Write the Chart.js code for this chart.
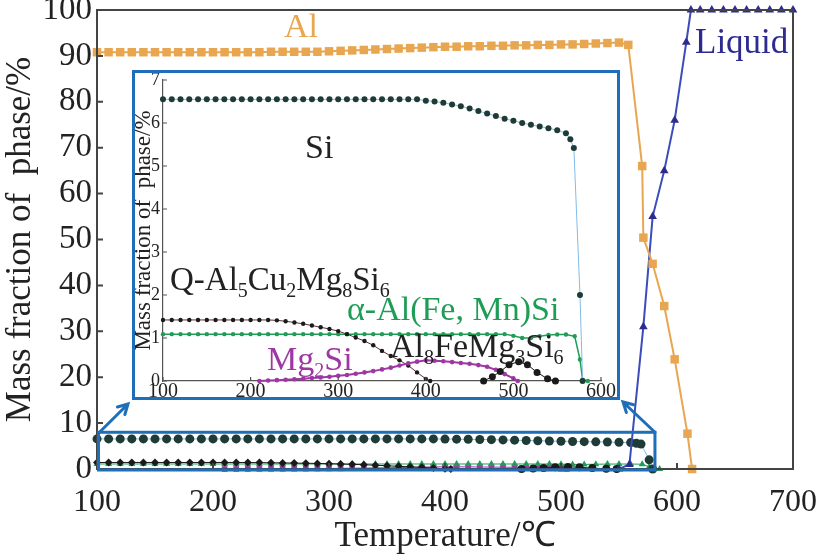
<!DOCTYPE html>
<html>
<head>
<meta charset="utf-8">
<title>Mass fraction of phase vs temperature</title>
<script src="https://cdn.jsdelivr.net/npm/chart.js@4.4.1/dist/chart.umd.min.js"></script>
<style>
  html, body { margin: 0; padding: 0; background: #fff; }
  #wrap { position: relative; width: 820px; height: 558px; }
  #mainChart { position: absolute; left: 0; top: 0; }
  #insetChart { position: absolute; left: 132px; top: 70px; }
</style>
</head>
<body>
<div id="wrap">
  <canvas id="mainChart" width="820" height="558"></canvas>
  <canvas id="insetChart" width="488" height="330"></canvas>
</div>
<script>
// ==================== DATA (temperature in °C, mass fraction in %) ====================

const alTemp = [100,110,120,130,140,150,160,170,180,190,
                200,210,220,230,240,250,260,270,280,290,
                300,310,320,330,340,350,360,370,380,390,
                400,410,420,430,440,450,460,470,480,490,
                500,510,520,530,540,550,558,570,571,579,589,598,609,613];
const alFrac = [90.8,90.8,90.8,90.8,90.8,90.8,90.8,90.8,90.8,90.8,
                90.8,90.8,90.8,90.8,90.8,90.9,90.9,90.9,90.9,90.9,
                91.0,91.1,91.2,91.3,91.4,91.5,91.6,91.7,91.8,91.9,
                92.0,92.0,92.1,92.1,92.2,92.2,92.3,92.3,92.4,92.4,
                92.5,92.5,92.6,92.7,92.8,92.9,92.4,66.0,50.4,44.7,35.5,23.9,7.7,0];

const liqTemp = [550,559,571,579,589,598,608,612,620,630,640,650,660,670,680,690,700];
const liqFrac = [0,1,31,55,65,76,93,100,100,100,100,100,100,100,100,100,100];

const siTemp = [100,110,120,130,140,150,160,170,180,190,
                200,210,220,230,240,250,260,270,280,290,
                300,310,320,330,340,350,360,370,380,390,
                400,410,420,430,440,450,460,470,480,490,
                500,510,520,530,540,550,560,565,569,576,579];
const siFrac = [6.55,6.55,6.55,6.55,6.55,6.55,6.55,6.55,6.55,6.55,
                6.55,6.55,6.55,6.55,6.55,6.55,6.55,6.55,6.55,6.55,
                6.55,6.55,6.55,6.55,6.55,6.55,6.55,6.55,6.55,6.55,
                6.52,6.50,6.47,6.43,6.39,6.34,6.28,6.22,6.16,6.10,
                6.05,6.00,5.96,5.92,5.88,5.83,5.76,5.62,5.42,2.0,0];

// Q-Al5Cu2Mg8Si6
const qTemp = [100,110,120,130,140,150,160,170,180,190,
               200,210,220,230,240,250,260,270,280,290,
               300,310,320,330,340,350,360,370,380,390,400,405];
const qFrac = [1.42,1.42,1.42,1.42,1.42,1.42,1.42,1.42,1.42,1.42,
               1.42,1.42,1.42,1.41,1.39,1.36,1.33,1.29,1.25,1.21,
               1.16,1.09,1.01,0.93,0.83,0.70,0.58,0.48,0.36,0.20,0.05,0];

// alpha-Al(Fe, Mn)Si
const aTemp = [100,110,120,130,140,150,160,170,180,190,
               200,210,220,230,240,250,260,270,280,290,
               300,310,320,330,340,350,360,370,380,390,
               400,410,420,430,440,450,460,470,480,490,
               500,510,520,530,540,550,560,570,576,579,585];
const aFrac = [1.09,1.09,1.09,1.09,1.09,1.09,1.09,1.09,1.09,1.09,
               1.09,1.09,1.09,1.09,1.09,1.09,1.09,1.09,1.09,1.09,
               1.09,1.09,1.09,1.09,1.09,1.09,1.09,1.09,1.09,1.09,
               1.09,1.09,1.09,1.09,1.09,1.09,1.09,1.09,1.09,1.09,
               1.05,1.00,1.00,1.04,1.07,1.08,1.08,1.04,0.5,0.03,0];

// Mg2Si
const mgTemp = [210,220,230,240,250,260,270,280,290,300,
                310,320,330,340,350,360,370,380,390,400,
                410,420,430,440,450,460,470,480,490,500,505];
const mgFrac = [0,0.01,0.02,0.03,0.04,0.05,0.07,0.08,0.10,0.12,
                0.14,0.17,0.20,0.23,0.27,0.31,0.36,0.41,0.45,0.48,
                0.47,0.46,0.44,0.42,0.40,0.37,0.33,0.26,0.16,0.06,0];

// Al8FeMg3Si6
const al8Temp = [466,476,485,495,506,516,527,539,548];
const al8Frac = [0,0.10,0.22,0.38,0.45,0.38,0.20,0.05,0];

// region of the main plot that the inset enlarges
const zoomBox = { tMin: 100, tMax: 581, fMax: 8 };

// ==================== STYLE ====================
const SERIF = '"Liberation Serif", "Times New Roman", serif';
const INK = '#222';
const AL_ORANGE = '#E9A650';
const LIQ_MARK = '#2D2B8F';
const LIQ_LINE = '#3B4CBB';
const SI_DARK = '#1F3B36';
const SI_LINE = '#84BCE6';
const Q_BLACK = '#1a1a1a';
const ALPHA_GREEN = '#1F9D57';
const MG_PURPLE = '#9E36A3';
const FRAME_BLUE = '#1E6FB8';

const pts = (xs, ys) => xs.map((x, i) => ({ x: x, y: ys[i] }));

function series(xs, ys, style) {
  return Object.assign({
    data: pts(xs, ys),
    showLine: true,
    clip: false,
    borderWidth: 1,
    pointBorderWidth: 0
  }, style);
}

// draw text where "_x" makes x a subscript
function drawRich(ctx, text, x, y, size, color) {
  ctx.save();
  ctx.fillStyle = color;
  ctx.textAlign = 'left';
  ctx.textBaseline = 'alphabetic';
  let cx = x;
  for (let i = 0; i < text.length; i++) {
    let ch = text[i];
    let sub = false;
    if (ch === '_') { ch = text[++i]; sub = true; }
    ctx.font = (sub ? Math.round(size * 0.6) : size) + 'px ' + SERIF;
    ctx.fillText(ch, cx, sub ? y + size * 0.22 : y);
    cx += ctx.measureText(ch).width;
  }
  ctx.restore();
}

// white background, inward ticks, optional box, text labels, optional blue frame
const frameAndTicks = {
  id: 'frameAndTicks',
  beforeDraw(chart) {
    const ctx = chart.ctx;
    ctx.save();
    ctx.fillStyle = '#fff';
    ctx.fillRect(0, 0, chart.width, chart.height);
    ctx.restore();
  },
  afterDraw(chart, args, o) {
    const { ctx, chartArea: a, scales } = chart;
    ctx.save();
    ctx.strokeStyle = o.axisColor;
    ctx.lineWidth = o.axisWidth;
    if (o.box) ctx.strokeRect(a.left, a.top, a.right - a.left, a.bottom - a.top);
    ctx.beginPath();
    scales.x.ticks.forEach(t => {
      const px = scales.x.getPixelForValue(t.value);
      ctx.moveTo(px, a.bottom);
      ctx.lineTo(px, a.bottom - o.tickLen);
    });
    scales.y.ticks.forEach(t => {
      const py = scales.y.getPixelForValue(t.value);
      ctx.moveTo(a.left, py);
      ctx.lineTo(a.left + o.tickLen, py);
    });
    ctx.stroke();
    (o.labels || []).forEach(l => drawRich(ctx, l.text, l.x, l.y, l.size, l.color));
    if (o.frame) {
      ctx.strokeStyle = FRAME_BLUE;
      ctx.lineWidth = 3;
      ctx.strokeRect(1.5, 1.5, chart.width - 3, chart.height - 3);
    }
    ctx.restore();
  }
};

function arrow(ctx, x0, y0, x1, y1) {
  const ang = Math.atan2(y1 - y0, x1 - x0);
  const head = 11;
  ctx.beginPath();
  ctx.moveTo(x0, y0);
  ctx.lineTo(x1, y1);
  ctx.moveTo(x1 - head * Math.cos(ang - 0.5), y1 - head * Math.sin(ang - 0.5));
  ctx.lineTo(x1, y1);
  ctx.lineTo(x1 - head * Math.cos(ang + 0.5), y1 - head * Math.sin(ang + 0.5));
  ctx.stroke();
}

// blue box round the enlarged region and the two arrows to the inset
const zoomMarker = {
  id: 'zoomMarker',
  afterDraw(chart) {
    const { ctx, scales: { x, y } } = chart;
    const x0 = x.getPixelForValue(zoomBox.tMin) + 1.5;
    const x1 = x.getPixelForValue(zoomBox.tMax);
    const y0 = y.getPixelForValue(0) + 1;
    const y1 = y.getPixelForValue(zoomBox.fMax);
    ctx.save();
    ctx.strokeStyle = FRAME_BLUE;
    ctx.lineWidth = 3;
    ctx.lineCap = 'round';
    ctx.strokeRect(x0, y1, x1 - x0, y0 - y1);
    arrow(ctx, x0 + 1, y1, 128, 404);
    arrow(ctx, x1, y1, 623, 402);
    ctx.restore();
  }
};

function fitX(h) {
  return s => { s.height = h; s.paddingLeft = 0; s.paddingRight = 0; };
}
function fitY(w) {
  return s => { s.width = w; s.paddingTop = 0; s.paddingBottom = 0; };
}

// ==================== MAIN CHART ====================
new Chart(document.getElementById('mainChart'), {
  type: 'scatter',
  data: {
    datasets: [
      series(alTemp, alFrac, { borderColor: AL_ORANGE, borderWidth: 2, pointStyle: 'rect', pointRadius: 6, pointBackgroundColor: AL_ORANGE }),
      series(liqTemp, liqFrac, { borderColor: LIQ_LINE, borderWidth: 2, pointStyle: 'triangle', pointRadius: 5, pointBackgroundColor: LIQ_MARK }),
      series(siTemp, siFrac, { borderColor: SI_LINE, pointStyle: 'circle', pointRadius: 4.5, pointBackgroundColor: SI_DARK }),
      series(qTemp, qFrac, { borderColor: Q_BLACK, pointStyle: 'rectRot', pointRadius: 4, pointBackgroundColor: Q_BLACK }),
      series(al8Temp, al8Frac, { borderColor: Q_BLACK, pointStyle: 'circle', pointRadius: 4, pointBackgroundColor: Q_BLACK }),
      series(aTemp, aFrac, { borderColor: ALPHA_GREEN, pointStyle: 'triangle', pointRadius: 4, pointBackgroundColor: ALPHA_GREEN }),
      series(mgTemp, mgFrac, { borderColor: MG_PURPLE, pointStyle: 'rect', pointRadius: 4, pointBackgroundColor: MG_PURPLE })
    ]
  },
  options: {
    responsive: false,
    animation: false,
    layout: { padding: { left: 0, right: 27, top: 10, bottom: 0 } },
    plugins: {
      legend: { display: false },
      tooltip: { enabled: false },
      frameAndTicks: {
        axisColor: '#444', axisWidth: 2, tickLen: 6, box: true,
        labels: [
          { text: 'Al', x: 284, y: 37, size: 34, color: AL_ORANGE },
          { text: 'Liquid', x: 695, y: 53, size: 35, color: LIQ_MARK }
        ]
      }
    },
    scales: {
      x: {
        type: 'linear', min: 100, max: 700,
        afterFit: fitX(89),
        ticks: { stepSize: 100, autoSkip: false, maxRotation: 0, padding: 14, color: INK, font: { family: SERIF, size: 32 } },
        grid: { display: false, drawTicks: false },
        border: { display: true, color: '#444', width: 2 },
        title: { display: true, text: 'Temperature/℃', color: INK, padding: 0, font: { family: SERIF, size: 35 } }
      },
      y: {
        min: 0, max: 100,
        afterFit: fitY(97),
        ticks: { stepSize: 10, autoSkip: false, padding: 5, color: INK, font: { family: SERIF, size: 33 } },
        grid: { display: false, drawTicks: false },
        border: { display: true, color: '#444', width: 2 },
        title: { display: true, text: 'Mass fraction of  phase/%', color: INK, padding: 0, font: { family: SERIF, size: 35 } }
      }
    }
  },
  plugins: [frameAndTicks, zoomMarker]
});

// ==================== INSET CHART ====================
new Chart(document.getElementById('insetChart'), {
  type: 'scatter',
  data: {
    datasets: [
      series(siTemp, siFrac, { borderColor: SI_LINE, pointStyle: 'circle', pointRadius: 3, pointBackgroundColor: SI_DARK }),
      series(al8Temp, al8Frac, { borderColor: Q_BLACK, pointStyle: 'circle', pointRadius: 3.5, pointBackgroundColor: Q_BLACK }),
      series(mgTemp, mgFrac, { borderColor: MG_PURPLE, borderWidth: 2, pointStyle: 'circle', pointRadius: 2.3, pointBackgroundColor: MG_PURPLE }),
      series(qTemp, qFrac, { borderColor: '#5a3030', pointStyle: 'circle', pointRadius: 2.2, pointBackgroundColor: Q_BLACK }),
      series(aTemp, aFrac, { borderColor: ALPHA_GREEN, borderWidth: 1.5, pointStyle: 'circle', pointRadius: 2.2, pointBackgroundColor: ALPHA_GREEN })
    ]
  },
  options: {
    responsive: false,
    animation: false,
    layout: { padding: { left: 0, right: 19, top: 10, bottom: 0 } },
    plugins: {
      legend: { display: false },
      tooltip: { enabled: false },
      frameAndTicks: {
        axisColor: '#555', axisWidth: 1.2, tickLen: 4, box: false, frame: true,
        labels: [
          { text: 'Si', x: 173, y: 88, size: 34, color: INK },
          { text: 'Q-Al_5Cu_2Mg_8Si_6', x: 38, y: 220, size: 33, color: INK },
          { text: 'α-Al(Fe, Mn)Si', x: 215, y: 250, size: 34, color: ALPHA_GREEN },
          { text: 'Al_8FeMg_3Si_6', x: 258, y: 287, size: 34, color: INK },
          { text: 'Mg_2Si', x: 135, y: 300, size: 34, color: MG_PURPLE }
        ]
      }
    },
    scales: {
      x: {
        type: 'linear', min: 100, max: 600,
        afterFit: fitX(19),
        ticks: { stepSize: 100, autoSkip: false, maxRotation: 0, padding: 1, color: INK, font: { family: SERIF, size: 20, lineHeight: 1 } },
        grid: { display: false, drawTicks: false },
        border: { display: true, color: '#555', width: 1.2 }
      },
      y: {
        min: 0, max: 7,
        afterFit: fitY(31),
        ticks: { stepSize: 1, autoSkip: false, padding: 3, color: INK, font: { family: SERIF, size: 18 } },
        grid: { display: false, drawTicks: false },
        border: { display: true, color: '#555', width: 1.2 },
        title: { display: true, text: 'Mass fraction of  phase/%', color: INK, padding: 0, font: { family: SERIF, size: 23, lineHeight: 1 } }
      }
    }
  },
  plugins: [frameAndTicks]
});
</script>
</body>
</html>
